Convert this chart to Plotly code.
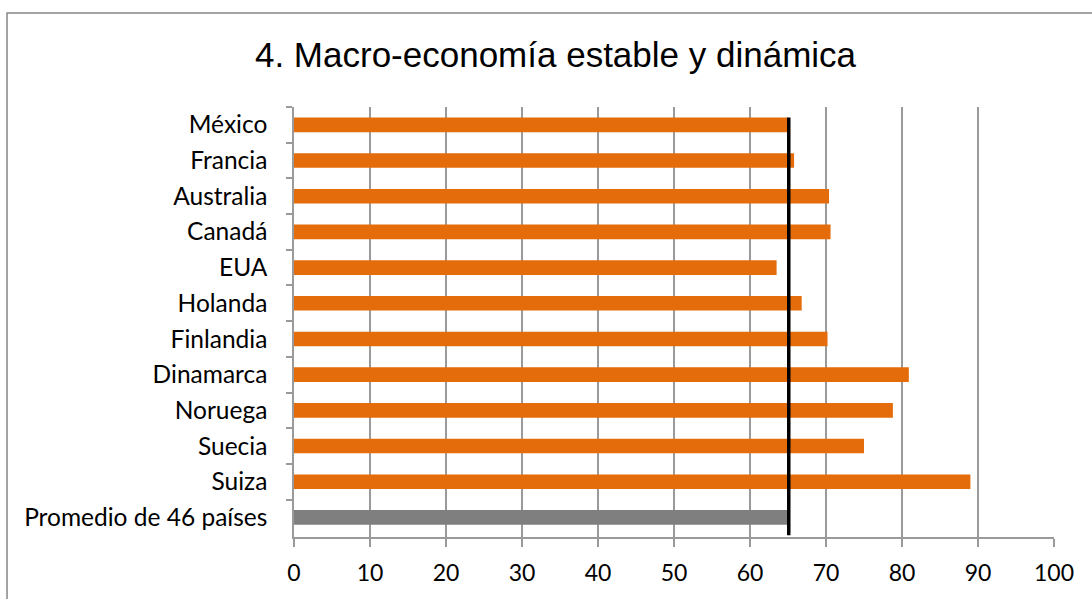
import plotly.graph_objects as go

categories = ["México", "Francia", "Australia", "Canadá", "EUA", "Holanda", "Finlandia",
              "Dinamarca", "Noruega", "Suecia", "Suiza", "Promedio de 46 países"]
values = [65.0, 65.8, 70.4, 70.6, 63.5, 66.8, 70.2, 80.9, 78.8, 75.0, 89.0, 65.0]
average = 65.1
x_ticks = [0, 10, 20, 30, 40, 50, 60, 70, 80, 90, 100]
title_text = "4. Macro-economía estable y dinámica"

bar_colors = ["#E46C0A"] * (len(categories) - 1) + ["#7F7F7F"]

fig = go.Figure()
fig.add_trace(go.Bar(
    y=categories, x=values, orientation="h",
    marker=dict(color=bar_colors, line=dict(width=0)),
    width=0.41, showlegend=False, hoverinfo="x+y",
))

# average vertical line from bottom of axis to top of first bar
fig.add_shape(type="line", xref="x", yref="y",
              x0=average, x1=average, y0=len(categories) - 0.5, y1=-0.205,
              line=dict(color="black", width=3.5))

# chart border
fig.add_shape(type="rect", xref="paper", yref="paper",
              x0=-0.3776, x1=1.08, y0=-0.2, y1=1.2186,
              line=dict(color="#878787", width=1.5), fillcolor="rgba(0,0,0,0)", layer="below")

fig.update_layout(
    width=1092, height=599,
    margin=dict(l=294, r=38, t=107, b=62),
    paper_bgcolor="white", plot_bgcolor="white",
    title=dict(text=title_text, x=0.5087, xref="container", y=0.908, yref="container",
               xanchor="center", yanchor="middle",
               font=dict(family="Liberation Sans, Arial", size=35, color="black")),
    bargap=0.6,
    font=dict(family="Lato", size=20, color="black"),
)
fig.update_xaxes(range=[0, 100], tickvals=x_ticks, showgrid=True, gridcolor="#9A9A9A", gridwidth=1.5,
                 showline=True, linecolor="#9A9A9A", linewidth=1.5,
                 ticks="outside", ticklen=8, tickcolor="#9A9A9A", tickwidth=1.5,
                 zeroline=False, tickfont=dict(family="Lato", size=23), ticklabelstandoff=7,
                 fixedrange=True)
fig.update_yaxes(categoryorder="array", categoryarray=categories, autorange="reversed",
                 showline=True, linecolor="#9A9A9A", linewidth=1.5,
                 ticks="outside", ticklen=6, tickcolor="#9A9A9A", tickwidth=1.5,
                 tickson="boundaries", showgrid=False,
                 tickfont=dict(family="Lato", size=24.5), ticklabelstandoff=20, fixedrange=True)

fig.write_html("out.html")
